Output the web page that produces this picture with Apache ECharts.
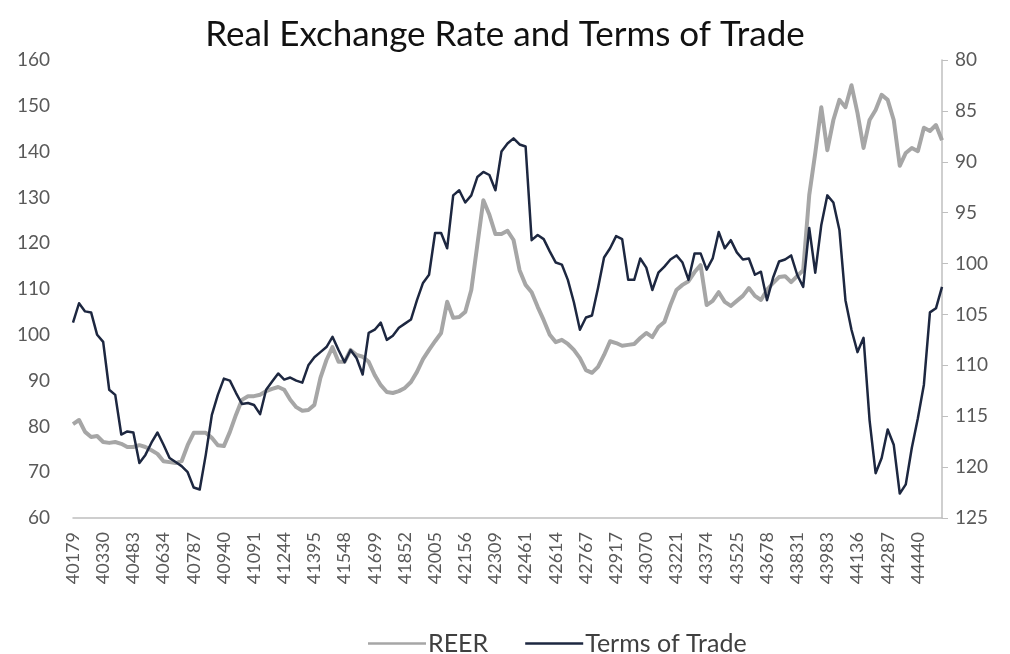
<!DOCTYPE html>
<html>
<head>
<meta charset="utf-8">
<script src="https://cdn.jsdelivr.net/npm/echarts@6/dist/echarts.min.js"></script>
<style>html,body{margin:0;padding:0;background:#fff}#c{width:1010px;height:654px}</style>
</head>
<body>
<div id="c"></div>
<script>
// Monthly observations, Jan 2010 .. Jan 2022; categories are Excel date serials (1st of month)
const startYear = 2010, startMonth = 0, nMonths = 145;
const categories = [];
for (let k = 0; k < nMonths; k++) {
  const d = Date.UTC(startYear, startMonth + k, 1);
  categories.push(String(Math.round((d - Date.UTC(1899, 11, 30)) / 86400000)));
}

const reer = [
  80.5, 81.4, 78.8, 77.7, 77.9, 76.6, 76.4, 76.6, 76.2, 75.5,
  75.5, 75.9, 75.5, 74.8, 74.0, 72.4, 72.2, 72.0, 72.4, 75.9,
  78.6, 78.6, 78.6, 77.5, 75.9, 75.7, 78.8, 82.5, 85.8, 86.6,
  86.6, 86.9, 87.7, 88.2, 88.6, 88.0, 85.8, 84.2, 83.4, 83.6,
  84.7, 90.6, 94.5, 97.3, 94.1, 94.1, 96.7, 95.6, 95.2, 94.1,
  91.2, 89.0, 87.5, 87.3, 87.7, 88.4, 89.7, 91.9, 94.7, 96.7,
  98.6, 100.4, 107.2, 103.7, 103.9, 105.0, 109.8, 119.6, 129.4, 126.2,
  122.0, 122.0, 122.7, 120.7, 114.1, 110.9, 109.3, 106.1, 103.2, 100.0,
  98.4, 98.9, 98.0, 96.7, 94.9, 92.3, 91.7, 93.0, 95.6, 98.6,
  98.2, 97.6, 97.8, 98.0, 99.3, 100.4, 99.5, 101.7, 102.8, 106.5,
  109.8, 110.9, 111.7, 113.7, 115.2, 106.5, 107.4, 109.3, 107.2, 106.3,
  107.4, 108.5, 110.2, 108.5, 107.6, 109.8, 111.3, 112.6, 112.8, 111.5,
  112.8, 114.1, 130.5, 139.7, 149.7, 140.3, 146.9, 151.3, 149.7, 154.5,
  148.4, 140.8, 146.9, 149.1, 152.4, 151.3, 146.9, 136.9, 139.7, 140.8,
  140.1, 145.2, 144.5, 145.8, 142.5
];

const termsOfTrade = [
  105.8, 103.9, 104.7, 104.8, 107.0, 107.7, 112.4, 112.9, 116.8, 116.5,
  116.6, 119.6, 118.8, 117.6, 116.6, 117.8, 119.1, 119.5, 119.9, 120.5,
  122.0, 122.2, 118.8, 114.9, 112.9, 111.3, 111.5, 112.7, 113.8, 113.7,
  113.9, 114.8, 112.4, 111.6, 110.8, 111.4, 111.2, 111.5, 111.7, 110.0,
  109.2, 108.7, 108.2, 107.2, 108.5, 109.7, 108.5, 109.3, 110.9, 106.8,
  106.5, 105.8, 107.5, 107.1, 106.3, 105.9, 105.5, 103.6, 101.9, 101.1,
  97.0, 97.0, 98.5, 93.3, 92.8, 94.0, 93.3, 91.5, 91.0, 91.3,
  92.8, 89.0, 88.2, 87.7, 88.3, 88.5, 97.7, 97.2, 97.6, 98.8,
  99.9, 100.1, 101.6, 103.8, 106.5, 105.3, 105.1, 102.4, 99.4, 98.5,
  97.3, 97.6, 101.6, 101.6, 99.5, 100.4, 102.6, 100.9, 100.3, 99.6,
  99.2, 99.9, 101.6, 99.0, 99.0, 100.6, 99.5, 96.9, 98.5, 97.7,
  98.9, 99.6, 99.5, 101.1, 100.8, 103.6, 101.4, 99.8, 99.6, 99.2,
  101.1, 102.3, 96.5, 100.9, 96.2, 93.3, 94.0, 96.7, 103.6, 106.5,
  108.7, 107.3, 115.4, 120.6, 119.1, 116.3, 117.8, 122.6, 121.7, 118.1,
  115.2, 111.9, 104.8, 104.4, 102.3
];

const chart = echarts.init(document.getElementById('c'), null, {renderer: 'canvas'});
const FONT = 'Lato, "Open Sans", sans-serif';
chart.setOption({
  animation: false,
  backgroundColor: '#ffffff',
  title: {
    text: 'Real Exchange Rate and Terms of Trade',
    left: 'center', top: 12,
    textStyle: {fontFamily: FONT, fontSize: 35, fontWeight: 'normal', color: '#111111'}
  },
  legend: {
    top: 626, left: 363,
    icon: 'rect',
    itemWidth: 58, itemHeight: 2.5, itemGap: 37,
    textStyle: {fontFamily: FONT, fontSize: 25, color: '#404040', padding: [0, 0, 0, -3]},
    data: ['REER', 'Terms of Trade']
  },
  grid: {left: 73, right: 68, top: 60, bottom: 136, containLabel: false},
  xAxis: {
    type: 'category', data: categories, boundaryGap: false,
    axisLine: {show: true, lineStyle: {color: '#bfbfbf', width: 1.5}},
    axisTick: {show: false},
    axisLabel: {interval: 4, rotate: 90, fontFamily: FONT, fontSize: 18, color: '#595959', margin: 14}
  },
  yAxis: [
    {
      type: 'value', min: 60, max: 160, interval: 10, position: 'left',
      axisLine: {show: false}, axisTick: {show: false}, splitLine: {show: false},
      axisLabel: {fontFamily: FONT, fontSize: 19, color: '#595959', margin: 23}
    },
    {
      type: 'value', min: 80, max: 125, interval: 5, position: 'right', inverse: true,
      axisLine: {show: true, lineStyle: {color: '#bfbfbf', width: 1.5}},
      axisTick: {show: true, inside: false, length: 6, lineStyle: {color: '#bfbfbf'}},
      splitLine: {show: false},
      axisLabel: {fontFamily: FONT, fontSize: 19, color: '#595959', margin: 13}
    }
  ],
  series: [
    {
      name: 'REER', type: 'line', yAxisIndex: 0, data: reer,
      symbol: 'none', smooth: false,
      lineStyle: {color: '#a6a6a6', width: 4, join: 'round'},
      itemStyle: {color: '#a6a6a6'}
    },
    {
      name: 'Terms of Trade', type: 'line', yAxisIndex: 1, data: termsOfTrade,
      symbol: 'none', smooth: false,
      lineStyle: {color: '#1d2740', width: 2.5, join: 'round'},
      itemStyle: {color: '#1d2740'}
    }
  ]
});
</script>
</body>
</html>
